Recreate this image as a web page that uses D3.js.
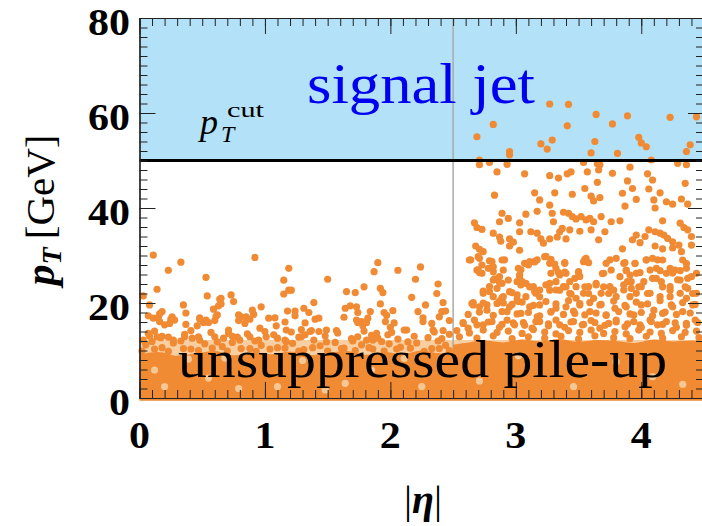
<!DOCTYPE html>
<html>
<head>
<meta charset="utf-8">
<script src="https://cdn.jsdelivr.net/npm/d3@7"></script>
<style>
  body { margin: 0; background: #fff; }
  svg { display: block; }
  text { font-family: "Liberation Serif", "Times New Roman", serif; }
</style>
</head>
<body>
<svg width="702" height="526"></svg>
<script>
// axis ticks
var etaTicks = [0, 1, 2, 3, 4]
var ptTicks = [0, 20, 40, 60, 80]

// regions
var signalRange = [50, 80]
var ptCut = 50
var trackerEdge = 2.5
var pileupBand = [0, 12.2]

// dense pile-up core, top edge per |eta|
var coreEta = [0, 0.15, 0.3, 0.45, 0.6, 0.75, 0.9, 1.05, 1.2, 1.35, 1.5, 1.65, 1.8, 1.95, 2.1, 2.25, 2.4, 2.5, 2.5, 2.6, 2.75, 2.9, 3.05, 3.2, 3.35, 3.5, 3.65, 3.8, 3.95, 4.1, 4.25, 4.4, 4.5]
var coreTop = [9.2, 9.7, 8.9, 9.4, 9.9, 9.0, 9.6, 9.2, 9.8, 9.0, 9.5, 9.9, 9.1, 9.7, 9.3, 10.0, 9.4, 9.5, 11.2, 11.6, 12.1, 11.7, 12.3, 11.9, 12.4, 11.8, 12.2, 12.0, 11.6, 12.3, 11.9, 12.1, 11.8]
var coreBottom = -0.6

// light holes left inside the dense core
var coreGaps = [[0.12,5.9],[0.20,2.4],[0.39,8.2],[0.68,8.4],[0.79,2.0],[1.10,2.4],[1.48,1.7],[1.64,3.1],[1.85,5.9],[2.11,8.3],[2.25,2.4],[1.30,7.9],[0.55,4.2],[2.71,3.6],[3.46,2.4],[4.09,4.5],[4.33,2.9],[3.02,8.9],[3.80,7.6]]

// jets above the cut
var signalJets = [[3.27,61.9],[3.42,61.8],[2.82,57.6],[2.69,55.0],[3.64,59.7],[3.41,57.3],[3.20,53.5],[3.29,54.3],[3.25,52.4],[2.95,51.9],[2.95,51.2],[3.63,54.0],[3.60,51.6],[3.77,57.7],[3.89,59.4],[3.81,51.5],[3.98,54.9],[4.00,53.7],[4.04,52.9],[4.23,59.1],[4.39,53.3],[4.36,51.9],[4.08,50.1],[4.44,59.2]]

// forward pile-up jets (|eta| > 2.5)
var forwardJets = [[2.71,50.1],[2.71,49.1],[2.79,49.6],[2.93,49.2],[2.85,47.6],[3.07,47.2],[3.27,46.8],[3.34,46.3],[3.41,47.2],[3.44,47.6],[3.54,49.6],[3.57,47.6],[3.65,49.3],[3.66,48.0],[3.67,49.1],[3.77,47.3],[3.91,48.6],[4.05,47.2],[4.09,45.9],[4.29,49.4],[4.36,49.1],[4.35,45.2],[3.65,45.4],[3.89,45.7],[3.93,44.1],[3.55,44.1],
  [2.83,42.7],[3.15,43.2],[3.19,41.7],[3.27,40.6],[3.31,43.2],[3.45,42.9],[3.60,42.5],[3.62,41.5],[3.67,42.2],[3.85,43.1],[3.96,41.8],[4.06,44.0],[4.10,41.7],[4.11,40.0],[4.15,43.2],[4.20,41.3],[4.25,40.8],[4.32,41.9],[4.37,40.8],[3.87,40.4],
  [2.89,38.9],[2.87,37.1],[2.94,37.8],[3.03,36.9],[3.08,38.7],[3.17,39.3],[3.29,38.9],[3.38,39.1],[3.42,38.9],[3.45,38.2],[3.48,37.7],[3.30,37.1],[3.52,38.2],[3.56,37.5],[3.59,37.8],[3.62,37.1],[3.68,38.2],[3.76,37.1],[3.83,37.3],[4.17,37.3],
  [2.67,36.9],[2.69,35.9],[2.73,35.5],[2.82,34.7],[2.87,33.9],[2.88,33.0],[2.95,33.5],[2.98,32.8],[3.03,35.0],[3.12,35.0],[3.17,34.7],[3.20,33.5],[3.22,32.6],[3.27,33.5],[3.33,33.9],[3.35,35.0],[3.37,35.7],[3.40,33.5],[3.43,35.4],[3.51,35.1],[3.60,35.4],[3.66,33.3],[3.71,35.0],[3.93,33.3],[3.96,34.3],[3.99,32.7],[4.03,34.0],[4.06,35.4],[4.11,35.0],[4.15,34.7],[4.18,34.3],[4.21,33.6],[4.25,32.9],[4.31,36.8],[4.34,35.9],[4.37,35.4],[4.40,34.0],[4.30,32.2],
  [2.68,32.0],[2.71,31.3],[2.95,32.0],[3.03,31.1],[3.85,31.4],[4.11,32.0],[4.17,31.4],[4.25,31.6],[4.32,30.8],[4.40,32.2],
  [2.64,29.1],[2.71,29.4],[2.73,28.0],[2.70,27.0],[2.71,26.4],[2.79,28.9],[2.82,27.6],[2.91,29.1],[3.04,27.0],[3.03,25.6],[3.05,24.5],[3.10,28.0],[3.15,28.7],[3.17,29.1],[3.24,29.8],[3.28,29.2],[3.31,28.2],[3.34,26.4],[3.39,26.5],[3.39,28.5],[3.50,26.4],[3.51,25.6],[3.55,29.2],[3.58,28.5],[3.69,26.2],[3.75,29.1],[3.87,28.5],[3.88,26.8],[3.91,25.9],[3.95,28.3],[3.99,26.4],[4.04,29.1],[4.09,29.4],[4.13,29.1],[4.15,26.8],[4.23,27.3],[4.25,26.3],[4.31,26.8],[4.36,28.3],
  [2.83,25.1],[2.87,24.3],[2.74,22.5],[2.79,22.4],[2.89,21.1],[2.90,20.0],[2.97,22.2],[3.01,20.7],[3.11,23.4],[3.15,22.4],[3.19,21.3],[3.24,23.8],[3.27,22.7],[3.32,24.5],[3.35,22.7],[3.40,23.4],[3.44,21.9],[3.48,21.0],[3.55,23.4],[3.58,22.0],[3.64,23.8],[3.70,23.4],[3.74,22.0],[3.78,22.7],[3.86,23.8],[3.89,24.5],[3.92,23.1],[3.98,23.4],[4.02,24.5],[4.05,22.0],[4.12,25.2],[4.17,23.4],[4.23,22.7],[4.29,24.9],[4.35,23.4],[4.37,25.2],[4.41,22.0],[2.66,19.6],[2.74,20.0]]

// forward jets between 20 and 31 GeV, second reading
var forwardMid = [[2.63,29.05],[2.70,29.76],[2.74,30.81],[2.69,26.95],[2.73,26.25],[2.78,27.30],[2.81,28.70],[2.82,26.60],[2.89,29.05],[2.90,26.95],[2.87,25.55],[2.82,24.84],[2.79,23.44],[2.85,23.09],[2.89,24.14],[2.94,24.84],[2.95,22.39],[3.01,24.49],[3.03,25.90],[3.02,27.30],[3.07,28.35],[3.11,28.70],[3.15,28.70],[3.04,23.79],[3.08,24.14],[3.14,23.44],[3.16,22.04],[3.19,22.74],
  [3.23,29.76],[3.27,28.35],[3.28,26.25],[3.32,27.30],[3.35,25.90],[3.39,28.35],[3.40,26.25],[3.43,24.49],[3.47,25.19],[3.50,26.60],[3.54,28.70],[3.56,29.40],[3.58,23.44],[3.64,24.14],[3.68,22.04],[3.70,26.25],[3.72,28.35],[3.76,26.95],[3.80,29.40],[3.83,25.55],[3.86,28.35],[3.88,26.95],[3.92,24.49],[3.95,28.35],[3.96,26.25],[4.00,23.44],
  [4.04,29.05],[4.07,26.95],[4.09,25.19],[4.12,27.30],[4.16,24.49],[4.17,29.05],[4.20,26.25],[4.23,23.44],[4.27,26.95],[4.31,24.84],[4.33,29.05],[4.36,27.30],[4.37,23.09],[4.40,25.55],[4.44,26.25],
  [2.74,22.04],[2.82,21.34],[2.90,21.34],[3.01,21.69],[3.08,21.34],[3.27,24.14],[3.32,22.74],[3.38,23.44],[3.43,22.04],[3.48,23.44],[3.54,22.04],[3.62,20.98],[3.75,23.44],[3.80,21.34],[3.86,22.74],[3.91,21.34],[3.96,22.04],[4.07,22.04],[4.15,21.34],[4.23,21.34],[4.31,22.04],[4.36,20.98],[4.44,22.04]]

// forward jets just above the core (13 - 21 GeV)
var forwardLow = [[2.66,20.1],[2.77,19.6],[2.87,20.4],[2.97,19.7],[3.05,20.2],[3.14,19.5],[3.24,20.3],[3.32,19.8],[3.42,20.5],[3.51,19.6],[3.59,20.1],[3.68,19.7],[3.78,20.4],[3.87,19.5],[3.96,20.2],[4.05,19.8],[4.15,20.5],[4.24,19.6],[4.33,20.1],[4.43,19.7],
  [2.62,17.6],[2.71,18.1],[2.82,17.4],[2.93,18.2],[3.01,17.7],[3.10,18.0],[3.19,17.3],[3.28,18.1],[3.38,17.6],[3.46,18.3],[3.55,17.5],[3.64,17.9],[3.72,17.4],[3.82,18.2],[3.91,17.7],[4.00,18.0],[4.09,17.3],[4.19,18.1],[4.28,17.6],[4.39,17.9],
  [2.58,15.9],[2.69,15.4],[2.78,16.0],[2.89,15.5],[2.98,15.8],[3.07,15.3],[3.16,16.1],[3.26,15.6],[3.35,15.4],[3.44,16.0],[3.54,15.5],[3.63,15.9],[3.71,15.3],[3.80,16.0],[3.89,15.6],[3.99,15.4],[4.08,16.1],[4.17,15.5],[4.27,15.8],[4.36,15.3],[4.45,15.9],
  [2.53,14.2],[2.63,13.7],[2.74,14.3],[2.85,13.8],[2.94,14.1],[3.05,13.6],[3.14,14.4],[3.23,13.9],[3.32,13.5],[3.42,14.2],[3.51,13.8],[3.60,14.3],[3.70,13.6],[3.79,14.0],[3.88,13.5],[3.98,14.3],[4.07,13.9],[4.16,13.6],[4.25,14.2],[4.35,13.8],[4.44,14.1],
  [2.65,19.9],[2.71,19.2],[2.77,18.5],[2.85,19.9],[2.89,18.2],[2.95,19.2],[3.02,20.3],[3.04,17.8],[3.11,19.2],[3.17,17.1],[3.19,19.6],[3.28,18.2],[3.32,18.9],[3.40,19.2],[3.47,17.8],[3.51,19.9],[3.59,18.2],[3.67,19.6],[3.72,17.5],[3.79,18.9],[3.88,19.2],[3.94,17.5],[4.00,19.6],[4.10,18.5],[4.17,17.8],[4.25,19.2],[4.33,18.2],[4.41,19.6],
  [2.58,15.7],[2.62,14.7],[2.67,16.4],[2.74,15.4],[2.81,16.1],[2.87,14.9],[2.93,16.4],[2.99,15.4],[3.06,15.9],[3.13,14.7],[3.19,16.1],[3.26,15.2],[3.32,16.4],[3.39,14.9],[3.46,16.1],[3.53,15.4],[3.60,16.3],[3.67,14.7],[3.74,15.7],[3.80,16.4],[3.87,15.0],[3.94,16.1],[4.00,14.9],[4.07,16.4],[4.13,15.4],[4.20,16.1],[4.28,14.9],[4.36,15.7],[4.43,16.4],
  [2.55,12.9],[2.69,12.6],[2.82,13.1],[2.97,12.5],[3.10,12.9],[3.23,12.6],[3.36,13.0],[3.50,12.4],[3.63,13.1],[3.78,12.7],[3.91,12.5],[4.04,13.0],[4.17,12.6],[4.32,12.9],[4.46,12.7]]

// central pile-up jets (|eta| < 2.5) above the band
var centralJets = [[0.11,30.1],[0.03,21.5],[0.23,26.9],[0.33,28.6],[0.14,22.9],[0.08,19.6],[0.07,17.3],[0.11,16.8],[0.15,17.0],[0.18,18.2],[0.16,16.1],[0.20,15.4],[0.24,15.7],[0.26,17.1],[0.28,16.4],[0.35,19.6],[0.37,15.5],[0.08,13.0],[0.14,12.9],[0.18,13.0],[0.23,12.8],
  [0.53,25.4],[0.54,21.5],[0.48,16.6],[0.51,15.9],[0.53,16.4],[0.46,15.2],[0.60,16.3],[0.62,17.5],[0.59,18.7],[0.63,19.4],[0.65,19.8],[0.64,20.8],[0.65,21.0],[0.73,21.7],[0.75,20.3],[0.71,13.6],[0.74,13.0],
  [0.79,17.5],[0.81,17.1],[0.85,17.1],[0.88,16.6],[0.90,18.5],[0.92,29.6],[0.97,19.2],[0.96,14.7],[1.03,16.8],[1.09,15.2],[1.15,24.8],[1.15,21.9],[1.18,18.3],[1.19,22.7],[1.19,27.3],[1.21,22.7],[1.24,18.3],[1.17,14.3],
  [1.31,18.9],[1.35,18.0],[1.39,20.1],[1.43,16.8],[1.29,14.4],[1.36,14.0],[1.43,14.0],[1.49,14.3],[1.50,25.0],[1.57,14.2],[1.64,18.9],[1.65,22.4],[1.68,19.4],[1.72,22.2],[1.73,19.2],[1.74,18.0],[1.73,16.4],[1.77,16.1],[1.78,15.2],[1.81,15.9],[1.79,23.4],[1.84,18.2],[1.87,26.6],[1.90,28.5],[1.92,23.1],[1.94,22.2],[1.92,19.8],[1.95,18.0],[1.96,16.1],[2.02,18.4],[2.06,26.9],[1.98,13.3],[2.00,14.9],
  [1.74,12.9],[1.81,12.2],[1.89,13.6],[1.86,12.2],[1.16,12.2],[1.27,12.8],[1.32,13.3],[1.39,12.2],[0.88,12.9],[0.95,12.2],[1.01,12.9],[1.07,13.3],[0.60,12.9],[0.67,12.6],[0.80,12.2],[0.36,12.9],[0.42,12.6],[0.48,12.2],[0.03,12.2],[0.27,12.2],
  [2.24,27.6],[2.20,25.0],[2.17,21.2],[2.38,24.0],[2.37,22.0],[2.42,20.1],[2.28,19.6],[2.22,18.2],[2.41,18.2],[2.44,18.3],[2.26,16.1],[2.47,16.3],[2.34,14.3],[2.13,14.3],[2.42,14.2],
  [0.07,13.6],[0.12,14.1],[0.17,12.7],[0.36,13.4],[0.41,14.2],[0.47,12.9],[0.57,13.8],[0.71,14.3],[0.78,12.8],[0.86,13.5],[1.00,14.0],[1.10,12.6],[1.21,13.9],[1.29,12.9],[1.37,14.2],[1.48,13.1],[1.58,13.7],[1.69,12.5],[1.79,14.1],[1.85,13.2],[1.90,12.6],[2.01,13.8],[2.06,12.4],[2.11,14.3],[2.19,13.0],[2.30,12.7],[2.35,13.9],[2.41,12.5],[2.47,13.4],
  [0.16,17.7],[0.25,16.6],[0.37,17.9],[0.48,16.9],[0.55,15.9],[0.61,17.2],[0.79,16.3],[0.84,15.7],[0.91,17.6],[1.08,16.9],[1.16,16.0],[1.24,17.3],[1.32,15.8],[1.40,16.6],[1.63,17.0],[1.74,15.9],[1.82,16.8],[1.97,17.4],[2.03,15.8],[2.26,16.9],[2.33,15.7],[2.39,17.1]]

// jets inside the light pile-up band (|eta| < 2.5)
var bandJets = [[0.05,11.2],[0.18,10.6],[0.27,11.6],[0.41,10.3],[0.52,11.4],[0.66,10.8],[0.74,11.7],[0.88,10.4],[0.97,11.1],[1.10,10.6],[1.22,11.5],[1.31,10.2],[1.44,11.0],[1.56,11.7],[1.63,10.5],[1.77,11.2],[1.86,10.3],[1.99,11.4],[2.08,10.7],[2.21,11.6],[2.33,10.4],[2.44,11.1],
  [0.02,9.9],[0.12,10.3],[0.23,9.8],[0.35,10.4],[0.47,10.0],[0.58,10.5],[0.70,9.9],[0.81,10.4],[0.93,9.8],[1.04,10.3],[1.16,10.5],[1.27,9.9],[1.38,10.6],[1.50,9.9],[1.61,10.4],[1.72,10.0],[1.83,10.6],[1.95,9.9],[2.05,10.3],[2.16,10.5],[2.27,9.8],[2.39,10.4],[2.47,10.0],
  [0.10,11.9],[0.33,12.0],[0.62,11.8],[0.92,12.0],[1.17,11.9],[1.49,11.8],[1.70,12.0],[1.93,11.9],[2.14,11.8],[2.38,12.0]]

var svg = d3.select('svg')
var x = d3.scaleLinear().domain([0, 4.5]).range([139.5, 704])
var y = d3.scaleLinear().domain([0, 80]).range([398, 18])
var orange = '#f08a33'
var lightOrange = '#f7cfa2'

// signal region
svg.append('rect')
  .attr('x', x(0)).attr('y', y(signalRange[1]))
  .attr('width', x(4.5) - x(0)).attr('height', y(signalRange[0]) - y(signalRange[1]))
  .attr('fill', '#b3e1f8')

// light pile-up band
svg.append('rect')
  .attr('x', x(0)).attr('y', y(pileupBand[1]))
  .attr('width', x(4.5) - x(0)).attr('height', y(pileupBand[0]) - y(pileupBand[1]))
  .attr('fill', lightOrange)

// tracker edge
svg.append('line')
  .attr('x1', x(trackerEdge)).attr('x2', x(trackerEdge))
  .attr('y1', y(80)).attr('y2', y(0))
  .attr('stroke', '#aaaaaa').attr('stroke-width', 1.5)

// dense core
var core = coreEta.map(function(d, i) { return [d, coreTop[i]] })
svg.append('path')
  .datum(core)
  .attr('fill', orange)
  .attr('d', d3.area()
    .x(function(d) { return x(d[0]) })
    .y0(y(coreBottom))
    .y1(function(d) { return y(d[1]) })
    .curve(d3.curveMonotoneX))

svg.append('g')
  .attr('fill', '#f5c795')
  .selectAll('circle').data(coreGaps).enter().append('circle')
  .attr('cx', function(d) { return x(d[0]) })
  .attr('cy', function(d) { return y(d[1]) })
  .attr('r', 3.6)

var allJets = bandJets.concat(centralJets, forwardLow, forwardMid, forwardJets, signalJets)
svg.append('g')
  .attr('fill', orange)
  .selectAll('circle').data(allJets).enter().append('circle')
  .attr('cx', function(d) { return x(d[0]) })
  .attr('cy', function(d) { return y(d[1]) })
  .attr('r', 3.6)

// pT cut line
svg.append('line')
  .attr('x1', x(0)).attr('x2', x(4.5))
  .attr('y1', y(ptCut)).attr('y2', y(ptCut))
  .attr('stroke', '#000').attr('stroke-width', 3)

// axes: inward ticks on all sides
var minorX = x.ticks(45), minorY = y.ticks(40)
var addAxis = function(axis, tx, ty, values, size) {
  var g = svg.append('g')
    .attr('transform', 'translate(' + tx + ',' + ty + ')')
    .call(axis.tickValues(values).tickSizeInner(size).tickSizeOuter(0).tickFormat(''))
  g.select('.domain').attr('stroke', '#222').attr('stroke-width', 1.2)
  g.selectAll('.tick line').attr('stroke', '#222').attr('stroke-width', 1)
}
addAxis(d3.axisBottom(x), 0, y(0), minorX, -8)
addAxis(d3.axisBottom(x), 0, y(0), etaTicks, -16)
addAxis(d3.axisTop(x), 0, y(80), minorX, -8)
addAxis(d3.axisTop(x), 0, y(80), etaTicks, -16)
addAxis(d3.axisLeft(y), x(0), 0, minorY, -8)
addAxis(d3.axisLeft(y), x(0), 0, ptTicks, -16)
addAxis(d3.axisRight(y), x(4.5), 0, minorY, -8)
addAxis(d3.axisRight(y), x(4.5), 0, ptTicks, -16)

// tick labels
svg.append('g').selectAll('text').data(etaTicks).enter().append('text')
  .attr('x', function(d) { return x(d) })
  .attr('y', 448)
  .attr('text-anchor', 'middle')
  .attr('font-size', 37).attr('font-weight', 'bold')
  .attr('textLength', 21).attr('lengthAdjust', 'spacingAndGlyphs')
  .text(function(d) { return d })

svg.append('g').selectAll('text').data(ptTicks).enter().append('text')
  .attr('x', 130)
  .attr('y', function(d) { return y(d) + 16.5 })
  .attr('text-anchor', 'end')
  .attr('font-size', 37).attr('font-weight', 'bold')
  .attr('textLength', function(d) { return String(d).length * 21 }).attr('lengthAdjust', 'spacingAndGlyphs')
  .text(function(d) { return d })

// axis titles
var yt = svg.append('text')
  .attr('transform', 'translate(54,210) rotate(-90)')
  .attr('text-anchor', 'middle')
yt.append('tspan').attr('font-size', 42).attr('font-style', 'italic').attr('font-weight', 'bold').text('p')
yt.append('tspan').attr('font-size', 28).attr('font-style', 'italic').attr('font-weight', 'bold').attr('dy', 7).text('T')
yt.append('tspan').attr('font-size', 41).attr('dy', -7).text('\u2009[GeV]')

var xt = svg.append('text')
  .attr('x', 423).attr('y', 513)
  .attr('text-anchor', 'middle')
  .attr('font-size', 40)
xt.append('tspan').text('|')
xt.append('tspan').attr('font-style', 'italic').attr('font-weight', 'bold').text('\u03b7')
xt.append('tspan').text('|')

// labels inside the plot
svg.append('text')
  .attr('x', 307).attr('y', 103)
  .attr('font-size', 56).attr('fill', '#0000f0')
  .attr('textLength', 228).attr('lengthAdjust', 'spacingAndGlyphs')
  .text('signal jet')

svg.append('text').attr('x', 200).attr('y', 134)
  .attr('font-size', 36).attr('font-style', 'italic').text('p')
svg.append('text').attr('x', 221).attr('y', 142)
  .attr('font-size', 24).attr('font-style', 'italic').text('T')
svg.append('text').attr('x', 227).attr('y', 117)
  .attr('font-size', 22).attr('textLength', 37).attr('lengthAdjust', 'spacingAndGlyphs').text('cut')

svg.append('text')
  .attr('x', 178).attr('y', 377)
  .attr('font-size', 52)
  .attr('textLength', 489).attr('lengthAdjust', 'spacingAndGlyphs')
  .text('unsuppressed pile-up')
</script>
</body>
</html>
